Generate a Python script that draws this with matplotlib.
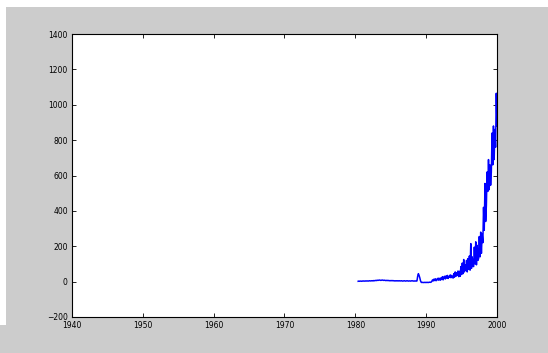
import numpy as np
import matplotlib
matplotlib.use("Agg")
import matplotlib.pyplot as plt
from matplotlib.patches import Rectangle

# ---- data ----
start_year = 1980.4
step_year = 0.1
values_early = [2,3,2,3,3,2,3,4,3,3, 4,3,4,4,3,4,5,4,4,5, 5,4,6,5,6,7,6,8,7,8,
                9,8,7,8,9,8,7,8,7,6, 7,6,7,6,5,6,5,6,5,6, 5,4,5,4,5,4,5,4,5,4,
                4,5,4,3,4,5,4,3,4,5, 4,3,4,4,3,4,5,4,3,4, 3,4,3,4]
values_spike = [30,45,35,22,5,-4,-5,-4,-5,-5,-4,-5,-4,-5,-4,-5,-4,-3,-4,-3]
values_rise = [2,10,4,14,6,16,5,12,18,8,20,10,
               8,22,12,28,10,25,30,15,32,20,35,18,30,25,38,22,35,28,
               20,45,25,55,30,50,35,60,28,58,
               30,85,40,105,45,125,55,95,65,120,
               55,130,70,145,65,215,75,140,90,
               85,195,100,225,95,205,120,
               130,255,140,280,160,270,
               220,420,290,555,340,
               430,620,510,690,520,660,545,
               620,840,660,880,690,860,
               760,1065,880]
values = values_early + values_spike + values_rise
years = start_year + step_year * np.arange(len(values))

x_ticks = [1940, 1950, 1960, 1970, 1980, 1990, 2000]
y_ticks = [-200, 0, 200, 400, 600, 800, 1000, 1200, 1400]

# ---- figure ----
W, H = 548, 353
fig = plt.figure(figsize=(W/100, H/100), dpi=100, facecolor="#cccccc")
# white strips at top and left edge
fig.patches.append(Rectangle((0, 1 - 7/H), 1, 7/H, transform=fig.transFigure,
                             facecolor="white", edgecolor="none", zorder=-1))
fig.patches.append(Rectangle((0, 1 - 325/H), 6/W, (325-7)/H, transform=fig.transFigure,
                             facecolor="white", edgecolor="none", zorder=-1))

ax = fig.add_axes([72/W, 1 - 317/H, (497-72)/W, (317-34)/H])
ax.set_facecolor("white")
ax.plot(years, values, color="#0000ff", linewidth=1.1)

ax.set_xlim(1940, 2000)
ax.set_ylim(-200, 1400)
ax.set_xticks(x_ticks)
ax.set_yticks(y_ticks)
ax.tick_params(direction="in", length=3, width=0.6, labelsize=5.5,
               top=True, right=True, colors="black")
ax.tick_params(axis="y", pad=3)
ax.tick_params(axis="x", pad=3)
for s in ax.spines.values():
    s.set_linewidth(0.8)
    s.set_color("black")

fig.savefig("out.png", dpi=100, facecolor=fig.get_facecolor())
